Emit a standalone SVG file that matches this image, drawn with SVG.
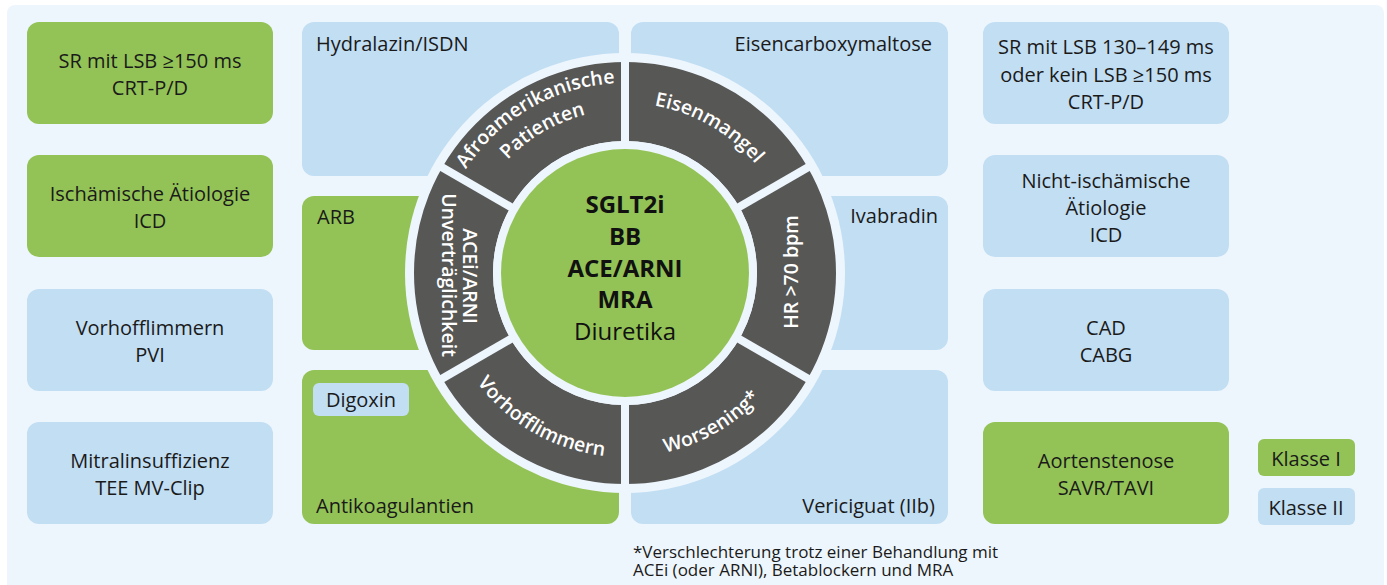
<svg xmlns="http://www.w3.org/2000/svg" width="1387" height="585" viewBox="0 0 1387 585">
<defs>
<style>
.t{font-family:"Open Sans","Noto Sans","Liberation Sans",sans-serif;font-size:20px;fill:#1a1a1a}
.c{text-anchor:middle}
.e{text-anchor:end}
.g{fill:#93c356}
.b{fill:#c2def3}
.w{font-family:"Open Sans","Noto Sans","Liberation Sans",sans-serif;font-size:19.5px;font-weight:600;fill:#ffffff}
.ctr{font-family:"Open Sans","Noto Sans","Liberation Sans",sans-serif;font-size:24px;fill:#111111;text-anchor:middle}
.sep{stroke:#eef6fd;stroke-width:8}
.fn{font-size:17px}
</style>
<path id="pAfro" d="M 435.7 256.4 A 190 190 0 0 1 705.3 100.8"/>
<path id="pPat" d="M 462.6 258.8 A 163 163 0 0 1 693.9 125.3"/>
<path id="pEisen" d="M 553.2 118.9 A 170 170 0 0 1 794.4 258.2"/>
<path id="pVorh" d="M 441.7 289 A 184 184 0 0 0 702.8 439.8"/>
<path id="pWors" d="M 547.2 439.8 A 184 184 0 0 0 808.3 289"/>
</defs>
<rect width="1387" height="585" fill="#ffffff"/>
<rect x="7" y="5" width="1377" height="610" rx="8" fill="#eef6fd"/>

<g id="left-1"><rect class="g" x="27" y="22" width="246" height="102" rx="12"/><text class="t c" x="150" y="68">SR mit LSB ≥150 ms</text><text class="t c" x="150" y="95">CRT-P/D</text></g>
<g id="left-2"><rect class="g" x="27" y="155" width="246" height="102" rx="12"/><text class="t c" x="150" y="201">Ischämische Ätiologie</text><text class="t c" x="150" y="228">ICD</text></g>
<g id="left-3"><rect class="b" x="27" y="289" width="246" height="102" rx="12"/><text class="t c" x="150" y="335">Vorhofflimmern</text><text class="t c" x="150" y="362">PVI</text></g>
<g id="left-4"><rect class="b" x="27" y="422" width="246" height="102" rx="12"/><text class="t c" x="150" y="468">Mitralinsuffizienz</text><text class="t c" x="150" y="495">TEE MV-Clip</text></g>

<g id="right-1"><rect class="b" x="983" y="22" width="246" height="102" rx="12"/><text class="t c" x="1106" y="54">SR mit LSB 130–149 ms</text><text class="t c" x="1106" y="81.5">oder kein LSB ≥150 ms</text><text class="t c" x="1106" y="109">CRT-P/D</text></g>
<g id="right-2"><rect class="b" x="983" y="155" width="246" height="102" rx="12"/><text class="t c" x="1106" y="188">Nicht-ischämische</text><text class="t c" x="1106" y="215">Ätiologie</text><text class="t c" x="1106" y="242">ICD</text></g>
<g id="right-3"><rect class="b" x="983" y="289" width="246" height="102" rx="12"/><text class="t c" x="1106" y="335">CAD</text><text class="t c" x="1106" y="362">CABG</text></g>
<g id="right-4"><rect class="g" x="983" y="422" width="246" height="102" rx="12"/><text class="t c" x="1106" y="468">Aortenstenose</text><text class="t c" x="1106" y="495">SAVR/TAVI</text></g>

<g id="legend-1"><rect class="g" x="1258" y="439" width="97" height="37" rx="6"/><text class="t c" x="1306" y="466">Klasse I</text></g>
<g id="legend-2"><rect class="b" x="1258" y="488" width="97" height="37" rx="6"/><text class="t c" x="1306" y="515">Klasse II</text></g>

<g id="hydralazin"><rect class="b" x="302" y="22" width="317" height="154" rx="12"/><text class="t" x="316" y="51">Hydralazin/ISDN</text></g>
<g id="eisencarboxymaltose"><rect class="b" x="631" y="22" width="317" height="154" rx="12"/><text class="t e" x="932" y="51">Eisencarboxymaltose</text></g>
<g id="arb"><rect class="g" x="302" y="196" width="317" height="154" rx="12"/><text class="t" x="317" y="224">ARB</text></g>
<g id="ivabradin"><rect class="b" x="631" y="196" width="317" height="154" rx="12"/><text class="t e" x="938" y="223">Ivabradin</text></g>
<g id="antikoagulantien"><rect class="g" x="302" y="370" width="317" height="154" rx="12"/><text class="t" x="316" y="513">Antikoagulantien</text></g>
<g id="vericiguat"><rect class="b" x="631" y="370" width="317" height="154" rx="12"/><text class="t e" x="935" y="513">Vericiguat (IIb)</text></g>

<g id="ring">
<circle cx="625" cy="273" r="220" fill="#eef6fd"/>
<circle cx="625" cy="273" r="171.5" fill="none" stroke="#575756" stroke-width="79"/>
<g class="sep">
<line x1="625" y1="273" x2="625" y2="57"/>
<line x1="625" y1="273" x2="625" y2="489"/>
<line x1="625" y1="273" x2="812" y2="165"/>
<line x1="625" y1="273" x2="438" y2="165"/>
<line x1="625" y1="273" x2="812" y2="381"/>
<line x1="625" y1="273" x2="438" y2="381"/>
</g>
<circle cx="625" cy="273" r="132" fill="#eef6fd"/>
</g>

<g id="seg-afro"><text class="w c"><textPath href="#pAfro" startOffset="50%">Afroamerikanische</textPath></text><text class="w c"><textPath href="#pPat" startOffset="50%">Patienten</textPath></text></g>
<g id="seg-eisen"><text class="w c"><textPath href="#pEisen" startOffset="50%">Eisenmangel</textPath></text></g>
<g id="seg-hr"><text class="w c" transform="translate(798,272) rotate(-90)">HR &gt;70 bpm</text></g>
<g id="seg-acei"><text class="w c" transform="translate(463,276) rotate(90)">ACEi/ARNI</text><text class="w c" transform="translate(442,275) rotate(90)">Unverträglichkeit</text></g>
<g id="seg-vorh"><text class="w c"><textPath href="#pVorh" startOffset="50%">Vorhofflimmern</textPath></text></g>
<g id="seg-wors"><text class="w c"><textPath href="#pWors" startOffset="50%">Worsening*</textPath></text></g>

<g id="center">
<circle cx="625" cy="273" r="124" fill="#93c356"/>
<text class="ctr" x="625" y="213" font-weight="bold">SGLT2i</text>
<text class="ctr" x="625" y="245" font-weight="bold">BB</text>
<text class="ctr" x="625" y="277" font-weight="bold">ACE/ARNI</text>
<text class="ctr" x="625" y="308" font-weight="bold">MRA</text>
<text class="ctr" x="625" y="340">Diuretika</text>
</g>

<g id="digoxin"><rect class="b" x="313" y="383" width="96" height="33" rx="6"/><text class="t c" x="361" y="407">Digoxin</text></g>

<g id="connectors"></g>

<g id="footnote">
<text class="t fn" x="633" y="558">*Verschlechterung trotz einer Behandlung mit</text>
<text class="t fn" x="633" y="576">ACEi (oder ARNI), Betablockern und MRA</text>
</g>
</svg>
